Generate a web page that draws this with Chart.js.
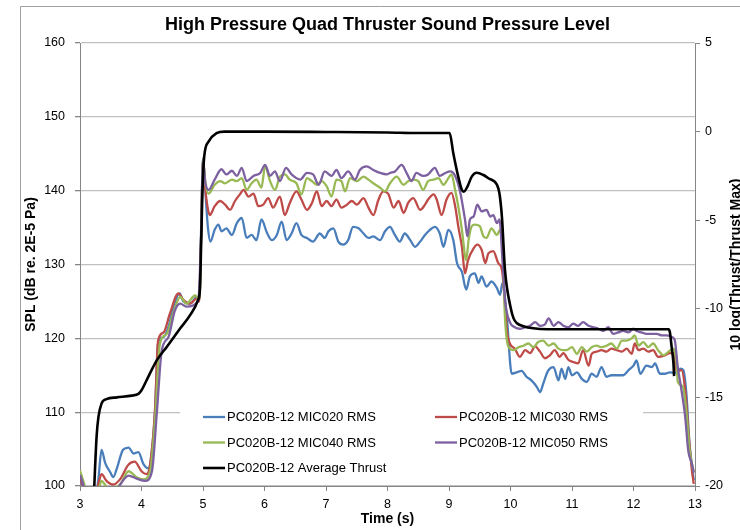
<!DOCTYPE html>
<html>
<head>
<meta charset="utf-8">
<title>High Pressure Quad Thruster Sound Pressure Level</title>
<script src="https://cdn.jsdelivr.net/npm/chart.js@4.4.1/dist/chart.umd.min.js"></script>
<style>
  html, body { margin: 0; padding: 0; background: #fff; }
  #wrap { width: 740px; height: 530px; }
</style>
</head>
<body>
<div id="wrap"><canvas id="splChart" width="740" height="530"></canvas></div>
<script>
// SPL traces (dB re. 2E-5 Pa) for each microphone, time in seconds
const mic020Time = [3.00, 3.08, 3.25, 3.30, 3.35, 3.41, 3.49, 3.54, 3.60, 3.70, 3.79, 3.87, 3.95, 4.03, 4.11, 4.17, 4.22, 4.27, 4.36, 4.44, 4.52, 4.62, 4.68, 4.79, 4.90, 4.94, 4.97, 5.00, 5.03, 5.08, 5.12, 5.19, 5.25, 5.30, 5.38, 5.47, 5.55, 5.63, 5.71, 5.79, 5.87, 5.95, 6.04, 6.12, 6.20, 6.28, 6.36, 6.44, 6.52, 6.60, 6.69, 6.79, 6.90, 6.98, 7.04, 7.12, 7.20, 7.28, 7.36, 7.44, 7.53, 7.61, 7.69, 7.77, 7.88, 7.96, 8.04, 8.12, 8.20, 8.28, 8.37, 8.45, 8.53, 8.61, 8.69, 8.77, 8.85, 8.91, 8.99, 9.07, 9.13, 9.21, 9.28, 9.34, 9.42, 9.48, 9.53, 9.61, 9.69, 9.78, 9.83, 9.87, 9.94, 10.02, 10.10, 10.18, 10.26, 10.34, 10.43, 10.48, 10.53, 10.61, 10.70, 10.78, 10.83, 10.89, 10.94, 11.00, 11.08, 11.16, 11.24, 11.32, 11.40, 11.48, 11.56, 11.64, 11.73, 11.83, 11.92, 12.00, 12.05, 12.11, 12.21, 12.30, 12.35, 12.43, 12.51, 12.59, 12.67, 12.76, 12.81, 12.86, 12.91, 12.98];
const mic020Spl = [100.8, 99.5, 98.5, 101.0, 104.9, 103.1, 101.9, 101.2, 102.4, 104.9, 105.2, 104.4, 104.6, 103.0, 102.4, 104.9, 110.3, 119.3, 120.2, 121.6, 124.3, 126.1, 125.0, 124.7, 125.6, 125.2, 135.0, 144.4, 141.0, 135.0, 133.1, 134.7, 135.4, 134.5, 134.9, 134.0, 135.6, 136.3, 133.6, 134.0, 133.3, 136.1, 134.3, 133.3, 134.0, 135.8, 133.3, 134.2, 135.6, 134.0, 133.6, 133.1, 134.2, 133.6, 134.5, 134.9, 133.1, 132.7, 133.3, 135.1, 134.9, 134.2, 133.6, 133.8, 133.3, 134.5, 135.1, 134.0, 133.1, 134.2, 133.3, 132.4, 133.1, 134.0, 134.7, 135.1, 134.2, 132.4, 134.7, 133.3, 130.2, 129.0, 126.6, 128.4, 128.8, 127.5, 128.4, 127.0, 127.7, 126.8, 125.9, 127.5, 122.9, 115.2, 115.4, 115.6, 114.8, 114.3, 113.4, 112.7, 113.8, 115.6, 116.1, 114.3, 115.9, 114.5, 116.1, 115.0, 115.4, 114.5, 114.1, 115.2, 114.8, 116.1, 114.8, 115.0, 115.0, 115.0, 115.7, 116.3, 117.0, 115.2, 116.3, 116.1, 116.6, 115.2, 115.2, 115.4, 115.3, 115.9, 115.7, 112.5, 105.8, 100.8];

const mic030Time = [3.00, 3.08, 3.25, 3.30, 3.35, 3.43, 3.54, 3.65, 3.79, 3.89, 4.00, 4.08, 4.14, 4.22, 4.27, 4.36, 4.46, 4.60, 4.68, 4.79, 4.90, 4.94, 4.97, 5.00, 5.04, 5.08, 5.11, 5.19, 5.28, 5.36, 5.44, 5.52, 5.60, 5.66, 5.74, 5.82, 5.90, 5.98, 6.06, 6.14, 6.25, 6.33, 6.41, 6.52, 6.60, 6.69, 6.77, 6.85, 6.93, 7.01, 7.09, 7.17, 7.25, 7.34, 7.42, 7.50, 7.61, 7.69, 7.77, 7.85, 7.93, 8.01, 8.10, 8.18, 8.26, 8.34, 8.42, 8.53, 8.61, 8.66, 8.75, 8.80, 8.88, 8.96, 9.04, 9.10, 9.15, 9.21, 9.26, 9.31, 9.40, 9.46, 9.53, 9.59, 9.64, 9.72, 9.80, 9.86, 9.90, 9.94, 9.99, 10.07, 10.15, 10.24, 10.32, 10.40, 10.48, 10.56, 10.64, 10.72, 10.80, 10.86, 10.94, 11.02, 11.10, 11.18, 11.27, 11.32, 11.40, 11.48, 11.56, 11.64, 11.73, 11.81, 11.89, 11.97, 12.02, 12.08, 12.16, 12.24, 12.32, 12.40, 12.51, 12.59, 12.65, 12.70, 12.78, 12.84, 12.90, 12.95, 12.98];
const mic030Spl = [101.0, 99.5, 98.5, 100.3, 101.6, 100.7, 100.2, 100.9, 102.9, 103.3, 102.0, 101.6, 102.9, 110.3, 119.7, 120.8, 123.3, 126.1, 125.2, 124.7, 125.4, 125.0, 134.0, 144.2, 140.0, 137.5, 136.7, 137.9, 138.6, 138.1, 137.4, 138.6, 139.5, 140.1, 139.2, 139.6, 137.9, 138.1, 139.0, 137.7, 139.2, 136.7, 138.3, 139.9, 138.8, 137.4, 138.3, 139.9, 137.9, 138.6, 137.9, 138.8, 137.7, 138.1, 138.6, 138.1, 139.0, 137.7, 136.7, 138.7, 139.9, 139.6, 137.7, 138.6, 137.0, 138.4, 139.0, 137.4, 138.1, 138.8, 139.5, 138.8, 136.7, 138.8, 139.7, 137.9, 135.2, 132.4, 128.8, 130.6, 132.2, 132.7, 132.0, 130.2, 131.5, 131.8, 130.2, 129.3, 126.0, 121.1, 119.3, 118.6, 117.5, 118.4, 118.0, 118.9, 118.2, 117.3, 117.7, 118.4, 117.5, 118.0, 117.1, 116.8, 116.6, 118.4, 116.3, 117.9, 118.2, 118.4, 118.2, 118.6, 118.4, 118.2, 118.6, 117.9, 119.3, 118.4, 118.6, 118.2, 118.4, 117.5, 117.7, 118.0, 118.0, 115.5, 115.7, 113.0, 106.6, 102.1, 100.3];

const mic040Time = [3.00, 3.06, 3.12, 3.30, 3.35, 3.45, 3.54, 3.65, 3.79, 3.92, 4.03, 4.14, 4.22, 4.30, 4.41, 4.52, 4.63, 4.73, 4.87, 4.94, 4.97, 5.00, 5.04, 5.09, 5.19, 5.28, 5.36, 5.47, 5.55, 5.63, 5.71, 5.79, 5.87, 5.95, 6.01, 6.09, 6.17, 6.25, 6.33, 6.41, 6.52, 6.60, 6.69, 6.77, 6.85, 6.93, 7.01, 7.09, 7.17, 7.25, 7.31, 7.39, 7.50, 7.61, 7.69, 7.77, 7.88, 7.96, 8.04, 8.15, 8.26, 8.34, 8.42, 8.50, 8.58, 8.66, 8.75, 8.83, 8.91, 8.99, 9.04, 9.10, 9.15, 9.21, 9.28, 9.32, 9.37, 9.42, 9.50, 9.56, 9.61, 9.69, 9.78, 9.83, 9.87, 9.91, 9.96, 10.05, 10.13, 10.21, 10.29, 10.37, 10.45, 10.53, 10.62, 10.70, 10.78, 10.86, 10.91, 11.00, 11.08, 11.16, 11.24, 11.32, 11.40, 11.48, 11.56, 11.64, 11.73, 11.81, 11.89, 11.97, 12.02, 12.08, 12.16, 12.24, 12.32, 12.40, 12.49, 12.57, 12.65, 12.70, 12.72, 12.80, 12.86, 12.91, 12.95, 12.98];
const mic040Spl = [102.1, 100.5, 99.0, 99.5, 100.7, 99.8, 99.8, 100.2, 102.0, 101.2, 100.9, 102.0, 109.0, 119.3, 120.6, 123.5, 125.6, 124.7, 125.8, 125.3, 134.0, 144.3, 141.0, 139.6, 140.8, 141.3, 141.0, 141.5, 141.3, 141.7, 140.1, 141.0, 141.5, 140.4, 143.3, 141.3, 140.1, 141.9, 142.2, 141.5, 141.0, 139.5, 141.7, 141.3, 140.8, 141.3, 140.6, 139.2, 141.5, 141.3, 139.9, 141.7, 141.3, 141.9, 141.5, 141.0, 140.4, 139.9, 141.0, 141.9, 140.8, 141.3, 141.5, 141.3, 140.1, 141.3, 141.5, 141.7, 140.8, 141.7, 142.2, 140.1, 137.9, 134.7, 130.6, 133.4, 135.2, 135.4, 135.2, 133.8, 133.6, 134.9, 134.0, 134.7, 132.0, 122.9, 119.0, 118.4, 118.8, 119.0, 119.3, 118.8, 119.5, 119.7, 119.0, 119.3, 118.6, 118.4, 118.4, 118.8, 117.9, 118.8, 118.2, 118.8, 119.0, 118.8, 119.0, 119.3, 118.6, 119.7, 119.7, 120.0, 120.4, 119.0, 119.5, 118.8, 119.3, 118.4, 117.7, 118.2, 118.6, 116.6, 114.1, 113.5, 110.0, 105.0, 103.0, 101.9];

const mic050Time = [3.00, 3.06, 3.12, 3.50, 3.60, 3.79, 3.92, 4.06, 4.17, 4.25, 4.33, 4.44, 4.54, 4.63, 4.73, 4.92, 4.97, 5.00, 5.04, 5.09, 5.19, 5.30, 5.38, 5.47, 5.55, 5.63, 5.71, 5.82, 5.93, 6.01, 6.09, 6.17, 6.25, 6.35, 6.44, 6.58, 6.69, 6.79, 6.88, 6.98, 7.09, 7.17, 7.25, 7.36, 7.47, 7.55, 7.66, 7.77, 7.88, 7.99, 8.04, 8.12, 8.23, 8.31, 8.39, 8.47, 8.58, 8.66, 8.77, 8.85, 8.94, 9.02, 9.10, 9.18, 9.26, 9.30, 9.34, 9.40, 9.46, 9.53, 9.61, 9.67, 9.72, 9.78, 9.82, 9.87, 9.91, 9.99, 10.07, 10.15, 10.24, 10.32, 10.40, 10.48, 10.56, 10.62, 10.70, 10.78, 10.86, 10.94, 11.02, 11.10, 11.18, 11.27, 11.35, 11.43, 11.51, 11.59, 11.67, 11.75, 11.83, 11.92, 12.00, 12.05, 12.13, 12.21, 12.30, 12.38, 12.46, 12.54, 12.62, 12.67, 12.72, 12.78, 12.84, 12.89, 12.95, 12.98];
const mic050Spl = [101.5, 100.0, 98.5, 99.0, 99.6, 101.4, 101.0, 100.7, 102.0, 110.0, 118.4, 120.2, 123.7, 124.7, 124.3, 125.0, 134.0, 144.0, 141.0, 140.1, 141.5, 142.9, 142.2, 142.7, 142.0, 143.1, 141.3, 142.0, 142.4, 143.5, 142.0, 142.6, 141.3, 143.1, 142.2, 141.5, 142.4, 142.2, 140.8, 142.6, 142.0, 142.8, 141.7, 142.6, 141.5, 142.8, 143.3, 142.8, 142.4, 142.2, 142.4, 142.6, 143.5, 142.4, 141.3, 142.4, 142.0, 142.2, 143.1, 142.0, 142.4, 142.6, 142.0, 139.9, 136.1, 133.8, 136.1, 136.5, 138.1, 137.2, 137.4, 136.5, 136.7, 135.6, 136.1, 130.5, 125.2, 122.2, 121.5, 121.3, 121.5, 121.7, 122.2, 121.7, 121.9, 122.7, 121.7, 122.2, 121.7, 121.5, 122.0, 121.7, 122.2, 121.7, 121.5, 121.3, 121.0, 121.5, 120.6, 120.8, 121.0, 120.8, 121.3, 121.0, 120.8, 120.6, 120.6, 120.6, 120.4, 120.4, 120.2, 119.8, 116.1, 113.0, 109.4, 104.8, 103.0, 101.8];

// Average thrust, 10 log(Thrust/Thrust Max), right axis
const thrustTime = [3.22, 3.27, 3.30, 3.35, 3.43, 3.60, 3.84, 3.95, 4.00, 4.11, 4.25, 4.41, 4.63, 4.79, 4.92, 4.95, 4.97, 4.99, 5.02, 5.09, 5.22, 5.35, 6.00, 7.00, 8.00, 8.50, 9.01, 9.07, 9.15, 9.21, 9.24, 9.30, 9.37, 9.45, 9.56, 9.64, 9.78, 9.82, 9.86, 9.91, 10.00, 10.05, 10.10, 10.21, 10.37, 10.60, 11.50, 12.57, 12.59, 12.62, 12.65, 12.66];
const thrustLevel = [-21.0, -17.2, -16.1, -15.35, -15.1, -15.0, -14.9, -14.8, -14.6, -13.84, -12.9, -12.15, -11.1, -10.36, -9.5, -8.9, -6.3, -3.5, -1.4, -0.57, -0.09, 0.0, 0.0, -0.02, -0.05, -0.08, -0.08, -1.22, -2.54, -3.3, -3.39, -3.1, -2.54, -2.32, -2.45, -2.63, -3.0, -3.48, -4.8, -7.8, -9.9, -10.54, -10.8, -10.98, -11.1, -11.15, -11.15, -11.15, -11.3, -12.15, -13.1, -13.8];

const seriesLabels = [
  "PC020B-12 MIC020 RMS",
  "PC020B-12 MIC030 RMS",
  "PC020B-12 MIC040 RMS",
  "PC020B-12 MIC050 RMS",
  "PC020B-12 Average Thrust",
];
const seriesColors = ["#4a7ebb", "#be4b48", "#98b954", "#7d60a0", "#000000"];

const chartTitle = "High Pressure Quad Thruster Sound Pressure Level";
const xTitle = "Time (s)";
const leftTitle = "SPL (dB re. 2E-5 Pa)";
const rightTitle = "10 log(Thrust/Thrust Max)";

const FONT = '"Liberation Sans", Arial, sans-serif';
const AXIS_GREY = "#868686";
const GRID_GREY = "#c0c0c0";

const toPoints = function (times, values) {
  return times.map((t, i) => ({ x: t, y: values[i] }));
};

const makeLine = function (idx, times, values, axis) {
  return {
    label: seriesLabels[idx],
    data: toPoints(times, values),
    borderColor: seriesColors[idx],
    backgroundColor: seriesColors[idx],
    borderWidth: idx === 4 ? 2.6 : 2.3,
    pointRadius: 0,
    cubicInterpolationMode: "monotone",
    yAxisID: axis,
    // later series sit on top of earlier ones
    order: 4 - idx,
  };
};

// outer frame, white panel behind the legend, rotated axis titles and the legend itself
const decorations = {
  id: "decorations",
  beforeDraw(chart) {
    const ctx = chart.ctx;
    ctx.save();
    ctx.strokeStyle = "#a0a0a0";
    ctx.lineWidth = 1;
    ctx.beginPath();
    ctx.moveTo(20.5, 530);
    ctx.lineTo(20.5, 6.5);
    ctx.lineTo(740, 6.5);
    ctx.stroke();
    ctx.restore();
  },
  beforeDatasetsDraw(chart) {
    const ctx = chart.ctx;
    ctx.save();
    ctx.fillStyle = "#ffffff";
    ctx.fillRect(180, 398, 463, 87);
    ctx.restore();
  },
  afterDraw(chart) {
    const ctx = chart.ctx;
    const area = chart.chartArea;
    const midY = (area.top + area.bottom) / 2;

    ctx.save();
    ctx.fillStyle = "#000";
    ctx.font = "bold 14px " + FONT;
    ctx.textAlign = "center";
    ctx.textBaseline = "middle";
    ctx.translate(31.5, midY);
    ctx.rotate(-Math.PI / 2);
    ctx.fillText(leftTitle, 0, 0);
    ctx.restore();

    ctx.save();
    ctx.fillStyle = "#000";
    ctx.font = "bold 14px " + FONT;
    ctx.textAlign = "center";
    ctx.textBaseline = "middle";
    ctx.translate(736, midY);
    ctx.rotate(-Math.PI / 2);
    ctx.fillText(rightTitle, 0, 0);
    ctx.restore();

    // legend: two columns, three rows
    const colX = [203, 435];
    const rowY = [417, 442.5, 468];
    ctx.save();
    ctx.font = "13px " + FONT;
    ctx.textBaseline = "middle";
    ctx.textAlign = "left";
    chart.data.datasets.forEach((ds, i) => {
      const x = colX[i % 2];
      const y = rowY[Math.floor(i / 2)];
      ctx.strokeStyle = ds.borderColor;
      ctx.lineWidth = ds.borderWidth;
      ctx.beginPath();
      ctx.moveTo(x, y);
      ctx.lineTo(x + 22, y);
      ctx.stroke();
      ctx.fillStyle = "#000";
      ctx.fillText(ds.label, x + 24, y + 0.5);
    });
    ctx.restore();
  },
};

const config = {
  type: "line",
  data: {
    datasets: [
      makeLine(0, mic020Time, mic020Spl, "ySpl"),
      makeLine(1, mic030Time, mic030Spl, "ySpl"),
      makeLine(2, mic040Time, mic040Spl, "ySpl"),
      makeLine(3, mic050Time, mic050Spl, "ySpl"),
      makeLine(4, thrustTime, thrustLevel, "yThrust"),
    ],
  },
  options: {
    responsive: false,
    animation: false,
    devicePixelRatio: 1,
    layout: { padding: { left: 20, right: 0, top: 0, bottom: 0 } },
    plugins: {
      legend: { display: false },
      tooltip: { enabled: false },
      title: {
        display: true,
        text: chartTitle,
        fullSize: false,
        color: "#000",
        font: { family: FONT, size: 18, weight: "bold", lineHeight: 1.2 },
        padding: { top: 14.5, bottom: 6.9 },
      },
    },
    scales: {
      x: {
        type: "linear",
        min: 3,
        max: 13,
        afterFit(scale) {
          scale.height = 44;
        },
        ticks: {
          stepSize: 1,
          color: "#000",
          padding: 6,
          maxRotation: 0,
          font: { family: FONT, size: 12.5 },
        },
        grid: {
          drawOnChartArea: false,
          drawTicks: true,
          tickLength: 5,
          tickColor: AXIS_GREY,
        },
        border: { color: AXIS_GREY, width: 1 },
        title: {
          display: true,
          text: xTitle,
          color: "#000",
          font: { family: FONT, size: 14, weight: "bold" },
          padding: { top: 0, bottom: 2 },
        },
      },
      ySpl: {
        type: "linear",
        position: "left",
        min: 100,
        max: 160,
        afterFit(scale) {
          scale.width = 60;
        },
        ticks: {
          stepSize: 10,
          color: "#000",
          padding: 10,
          font: { family: FONT, size: 12.5 },
        },
        grid: {
          color: GRID_GREY,
          lineWidth: 1.3,
          tickLength: 5,
          tickColor: AXIS_GREY,
        },
        border: { color: AXIS_GREY, width: 1 },
      },
      yThrust: {
        type: "linear",
        position: "right",
        min: -20,
        max: 5,
        afterFit(scale) {
          scale.width = 45;
        },
        ticks: {
          stepSize: 5,
          color: "#000",
          padding: 5,
          font: { family: FONT, size: 12.5 },
        },
        grid: {
          drawOnChartArea: false,
          tickLength: 5,
          tickColor: AXIS_GREY,
        },
        border: { color: AXIS_GREY, width: 1 },
      },
    },
  },
  plugins: [decorations],
};

new Chart(document.getElementById("splChart"), config);
</script>
</body>
</html>
